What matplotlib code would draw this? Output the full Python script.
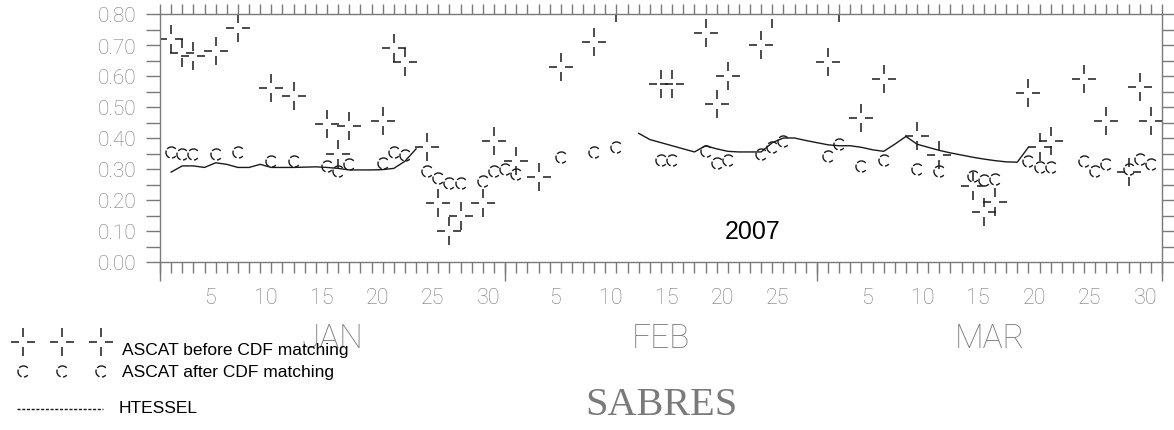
import numpy as np
import matplotlib
matplotlib.use('Agg')
import matplotlib.pyplot as plt
from matplotlib.path import Path
from matplotlib.lines import Line2D
from matplotlib.ticker import MultipleLocator, FixedLocator, NullFormatter

# ── Data (x = day of 2007, Jan 1 = 1) ─────────────────────────────────────────
before_day = [1, 2, 3, 5, 7, 10, 12, 15, 16, 17, 20, 21, 22, 24, 25, 26, 27,
              29, 30, 32, 34, 36, 39, 41, 45, 46, 49, 50, 51, 54, 55, 60, 61,
              63, 65, 68, 70, 73, 74, 75, 78, 79, 80, 83, 85, 87, 88, 89]
before_val = [0.72, 0.675, 0.665, 0.68, 0.755, 0.56, 0.535, 0.445, 0.35, 0.44,
              0.455, 0.69, 0.645, 0.37, 0.19, 0.10, 0.15, 0.19, 0.39, 0.325,
              0.275, 0.63, 0.71, 0.82, 0.575, 0.575, 0.74, 0.51, 0.60, 0.70,
              0.80, 0.645, 0.82, 0.465, 0.59, 0.405, 0.345, 0.245, 0.16, 0.195,
              0.545, 0.37, 0.39, 0.59, 0.455, 0.29, 0.565, 0.455]

after_day = [1, 2, 3, 5, 7, 10, 12, 15, 16, 17, 20, 21, 22, 24, 25, 26, 27,
             29, 30, 31, 32, 36, 39, 41, 45, 46, 49, 50, 51, 54, 55, 56, 60,
             61, 63, 65, 68, 70, 73, 74, 75, 78, 79, 80, 83, 84, 85, 87, 88, 89]
after_val = [0.355, 0.35, 0.35, 0.35, 0.355, 0.327, 0.325, 0.31, 0.295, 0.315,
             0.32, 0.355, 0.345, 0.295, 0.27, 0.255, 0.255, 0.26, 0.295, 0.30,
             0.285, 0.34, 0.355, 0.37, 0.33, 0.33, 0.357, 0.32, 0.328, 0.35,
             0.372, 0.39, 0.343, 0.38, 0.31, 0.33, 0.30, 0.295, 0.278, 0.265,
             0.267, 0.327, 0.305, 0.305, 0.327, 0.295, 0.315, 0.30, 0.332, 0.315]

htessel_day = list(range(1, 79))
htessel_val = ([0.29, 0.31, 0.31, 0.305, 0.32, 0.315, 0.305, 0.305, 0.315, 0.305,
                0.305, 0.305, 0.306, 0.307, 0.305, 0.302, 0.297, 0.297, 0.297,
                0.298, 0.302, 0.325, 0.365]
               + [np.nan] * 19
               + [0.415, 0.395, 0.385, 0.375, 0.365, 0.355, 0.375, 0.365, 0.357,
                  0.355, 0.355, 0.355, 0.385, 0.40, 0.40, 0.392, 0.385, 0.378,
                  0.375, 0.375, 0.37, 0.362, 0.357, 0.38, 0.405, 0.38, 0.37,
                  0.36, 0.352, 0.345, 0.338, 0.332, 0.327, 0.323, 0.322, 0.37])

month_names = ['JAN', 'FEB', 'MAR']
month_len = [31, 28, 31]
day_labels = [[5, 10, 15, 20, 25, 30], [5, 10, 15, 20, 25], [5, 10, 15, 20, 25, 30]]

# ── Marker shapes ─────────────────────────────────────────────────────────────
cross = Path([(-0.86, 0), (-0.3, 0), (0.3, 0), (0.86, 0),
              (0, -1), (0, -0.36), (0, 0.36), (0, 1)],
             [Path.MOVETO, Path.LINETO] * 4)
arcs = [Path.arc(40, 140), Path.arc(160, 250), Path.arc(275, 320)]
ring = Path.make_compound_path(*arcs)

INK = '#1a1a1a'
GREY = '#7a7a7a'
THIN = ['Roboto', 'DejaVu Sans']
narrow = ['Liberation Sans Narrow', 'Liberation Sans']

W, H = 1174, 431
fig = plt.figure(figsize=(W / 100, H / 100), dpi=100)
ax = fig.add_axes([160 / W, 1 - 263 / H, 1002 / W, 248 / H])

ax.plot(htessel_day, htessel_val, color=INK, lw=1.0)
ax.plot(before_day, before_val, ls='none', marker=cross, ms=20, mew=1.1,
        mec=INK, mfc='none')
ax.plot(after_day, after_val, ls='none', marker=ring, ms=8, mew=1.0,
        mec=INK, mfc='none')

ax.set_xlim(0, 90)
ax.set_ylim(0, 0.8)

for s in ax.spines.values():
    s.set_color(GREY)
    s.set_linewidth(1.0)

# y axis
ax.yaxis.set_major_locator(MultipleLocator(0.1))
ax.yaxis.set_minor_locator(MultipleLocator(0.05))
ax.yaxis.set_major_formatter(lambda v, p: f'{v:.2f}')
ax.tick_params(axis='y', which='both', direction='out', length=10, width=1,
               color=GREY, left=True, right=True, pad=7)
ax.tick_params(axis='y', labelsize=15, labelcolor=GREY)
for lab in ax.get_yticklabels():
    lab.set_fontfamily(THIN)
    lab.set_fontweight('light')

# x axis: day ticks + day labels
starts = np.cumsum([0] + month_len[:-1])
lab_pos, lab_txt = [], []
for s0, days in zip(starts, day_labels):
    for d in days:
        lab_pos.append(s0 + d - 0.5)
        lab_txt.append(str(d))
ax.xaxis.set_major_locator(FixedLocator(lab_pos))
ax.set_xticklabels(lab_txt)
ax.xaxis.set_minor_locator(MultipleLocator(1))
ax.tick_params(axis='x', which='major', length=0, pad=18, labelsize=15.5,
               labelcolor=GREY)
ax.tick_params(axis='x', which='minor', direction='out', length=8, width=1,
               color=GREY)
for lab in ax.get_xticklabels():
    lab.set_fontfamily(THIN)
    lab.set_fontweight('light')

# month boundary ticks
sec = ax.secondary_xaxis('bottom')
sec.set_xticks(list(starts) + [90])
sec.xaxis.set_major_formatter(NullFormatter())
sec.tick_params(length=14, width=1, color=GREY)
sec.spines['bottom'].set_visible(False)

# month names
sec2 = ax.secondary_xaxis('bottom')
sec2.set_xticks([s0 + n / 2 for s0, n in zip(starts, month_len)])
sec2.set_xticklabels(month_names)
sec2.tick_params(length=0, pad=43, labelsize=24, labelcolor=GREY)
sec2.spines['bottom'].set_visible(False)
for lab in sec2.get_xticklabels():
    lab.set_fontfamily(THIN)
    lab.set_fontweight('light')

# top day ticks
top = ax.secondary_xaxis('top')
top.xaxis.set_major_locator(MultipleLocator(1))
top.xaxis.set_major_formatter(NullFormatter())
top.tick_params(direction='out', length=7, width=1, color=GREY)
top.spines['top'].set_visible(False)

ax.text(53.2, 0.10, '2007', family=narrow, fontsize=18, color='black',
        ha='center', va='center')

# ── Legend drawn below the plot ───────────────────────────────────────────────
def fx(px):
    return px / W

def fy(py):
    return 1 - py / H

fig.add_artist(Line2D([fx(23), fx(62), fx(101)], [fy(343)] * 3,
                      transform=fig.transFigure, ls='none', marker=cross,
                      ms=20, mew=1.1, mec=INK, mfc='none'))
fig.add_artist(Line2D([fx(23), fx(62), fx(101)], [fy(372)] * 3,
                      transform=fig.transFigure, ls='none', marker=ring,
                      ms=8, mew=1.0, mec=INK, mfc='none'))
fig.add_artist(Line2D([fx(17), fx(103)], [fy(410)] * 2,
                      transform=fig.transFigure, color=INK, lw=1.0,
                      ls=(0, (2.2, 1.2))))
fig.text(fx(122), fy(350), 'ASCAT before CDF matching', family=narrow,
         fontsize=12.5, va='center', ha='left')
fig.text(fx(122), fy(373), 'ASCAT after CDF matching', family=narrow,
         fontsize=12.5, va='center', ha='left')
fig.text(fx(119), fy(409), 'HTESSEL', family=narrow, fontsize=12.5,
         va='center', ha='left')

fig.text(fx(661), fy(406), 'SABRES', family=['Liberation Serif'], fontsize=29,
         color=GREY, ha='center', va='center')

fig.savefig('out.png', dpi=100)
